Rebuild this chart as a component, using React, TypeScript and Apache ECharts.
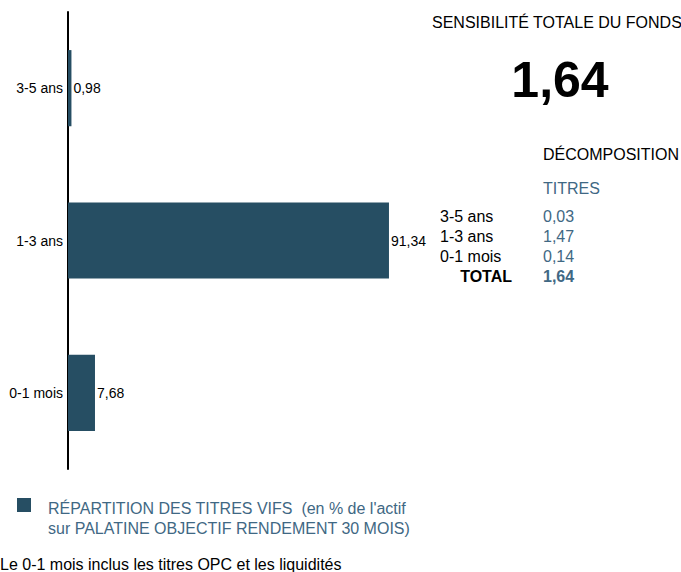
import React, { useEffect, useRef } from "react";
import * as echarts from "echarts";

const categories = ["3-5 ans", "1-3 ans", "0-1 mois"];
const repartition = [0.98, 91.34, 7.68];
const valueLabels = ["0,98", "91,34", "7,68"];

const totalSensitivity = "1,64";
const decompLabels = ["3-5 ans", "1-3 ans", "0-1 mois"];
const decompValues = ["0,03", "1,47", "0,14"];
const decompTotal = "1,64";

const FONT = "'Liberation Sans', Arial, sans-serif";
const BAR = "#264E63";
const BLUE = "#3F6884";

export default function App() {
  const ref = useRef<HTMLDivElement>(null);
  useEffect(() => {
    if (!ref.current) return;
    const chart = echarts.init(ref.current, undefined, { renderer: "svg" });
    const rowY = [216, 236, 256];
    const graphics: any[] = [
      {
        type: "text",
        left: 432,
        top: 14,
        style: { text: "SENSIBILITÉ TOTALE DU FONDS", fontSize: 16, fontFamily: FONT, fill: "#000" },
      },
      {
        type: "text",
        x: 560,
        y: 80,
        style: {
          text: totalSensitivity,
          fontSize: 50,
          fontWeight: "bold",
          fontFamily: FONT,
          fill: "#000",
          align: "center",
          verticalAlign: "middle",
        },
      },
      {
        type: "text",
        x: 543,
        y: 154,
        style: { text: "DÉCOMPOSITION", fontSize: 16, fontFamily: FONT, fill: "#000", verticalAlign: "middle" },
      },
      {
        type: "text",
        x: 543,
        y: 188,
        style: { text: "TITRES", fontSize: 16, fontFamily: FONT, fill: BLUE, verticalAlign: "middle" },
      },
      {
        type: "text",
        x: 512,
        y: 276,
        style: {
          text: "TOTAL",
          fontSize: 16,
          fontWeight: "bold",
          fontFamily: FONT,
          fill: "#000",
          align: "right",
          verticalAlign: "middle",
        },
      },
      {
        type: "text",
        x: 543,
        y: 276,
        style: {
          text: decompTotal,
          fontSize: 16,
          fontWeight: "bold",
          fontFamily: FONT,
          fill: BLUE,
          verticalAlign: "middle",
        },
      },
      {
        type: "rect",
        shape: { x: 17, y: 498, width: 14, height: 14 },
        style: { fill: BAR },
      },
      {
        type: "text",
        x: 48,
        y: 508,
        style: {
          text: "RÉPARTITION DES TITRES VIFS  (en % de l'actif",
          fontSize: 16,
          fontFamily: FONT,
          fill: BLUE,
          verticalAlign: "middle",
        },
      },
      {
        type: "text",
        x: 48,
        y: 528,
        style: {
          text: "sur PALATINE OBJECTIF RENDEMENT 30 MOIS)",
          fontSize: 16,
          fontFamily: FONT,
          fill: BLUE,
          verticalAlign: "middle",
        },
      },
      {
        type: "text",
        x: 0,
        y: 564,
        style: {
          text: "Le 0-1 mois inclus les titres OPC et les liquidités",
          fontSize: 16,
          fontFamily: FONT,
          fill: "#000",
          verticalAlign: "middle",
        },
      },
    ];
    decompLabels.forEach((l, i) => {
      graphics.push({
        type: "text",
        x: 440,
        y: rowY[i],
        style: { text: l, fontSize: 16, fontFamily: FONT, fill: "#000", verticalAlign: "middle" },
      });
      graphics.push({
        type: "text",
        x: 543,
        y: rowY[i],
        style: { text: decompValues[i], fontSize: 16, fontFamily: FONT, fill: BLUE, verticalAlign: "middle" },
      });
    });

    chart.setOption({
      animation: false,
      grid: { left: 68, top: 12, height: 457, width: 351.4, containLabel: false },
      xAxis: {
        type: "value",
        min: 0,
        max: 100,
        show: false,
      },
      yAxis: {
        type: "category",
        data: categories,
        inverse: true,
        axisLine: { show: true, lineStyle: { color: "#000", width: 2 } },
        axisTick: { show: false },
        axisLabel: { color: "#000", fontSize: 14, fontFamily: FONT, margin: 5 },
        splitLine: { show: false },
      },
      series: [
        {
          type: "bar",
          data: repartition,
          barWidth: "50%",
          itemStyle: { color: BAR },
          z: 1,
          label: {
            show: true,
            position: "right",
            distance: 2,
            color: "#000",
            fontSize: 14,
            fontFamily: FONT,
            formatter: (p: any) => valueLabels[p.dataIndex],
          },
        },
      ],
      graphic: graphics,
    });
    return () => chart.dispose();
  }, []);
  return (
    <div
      ref={ref}
      style={{ position: "fixed", left: 0, top: 0, width: 681, height: 572, background: "#fff" }}
    />
  );
}
